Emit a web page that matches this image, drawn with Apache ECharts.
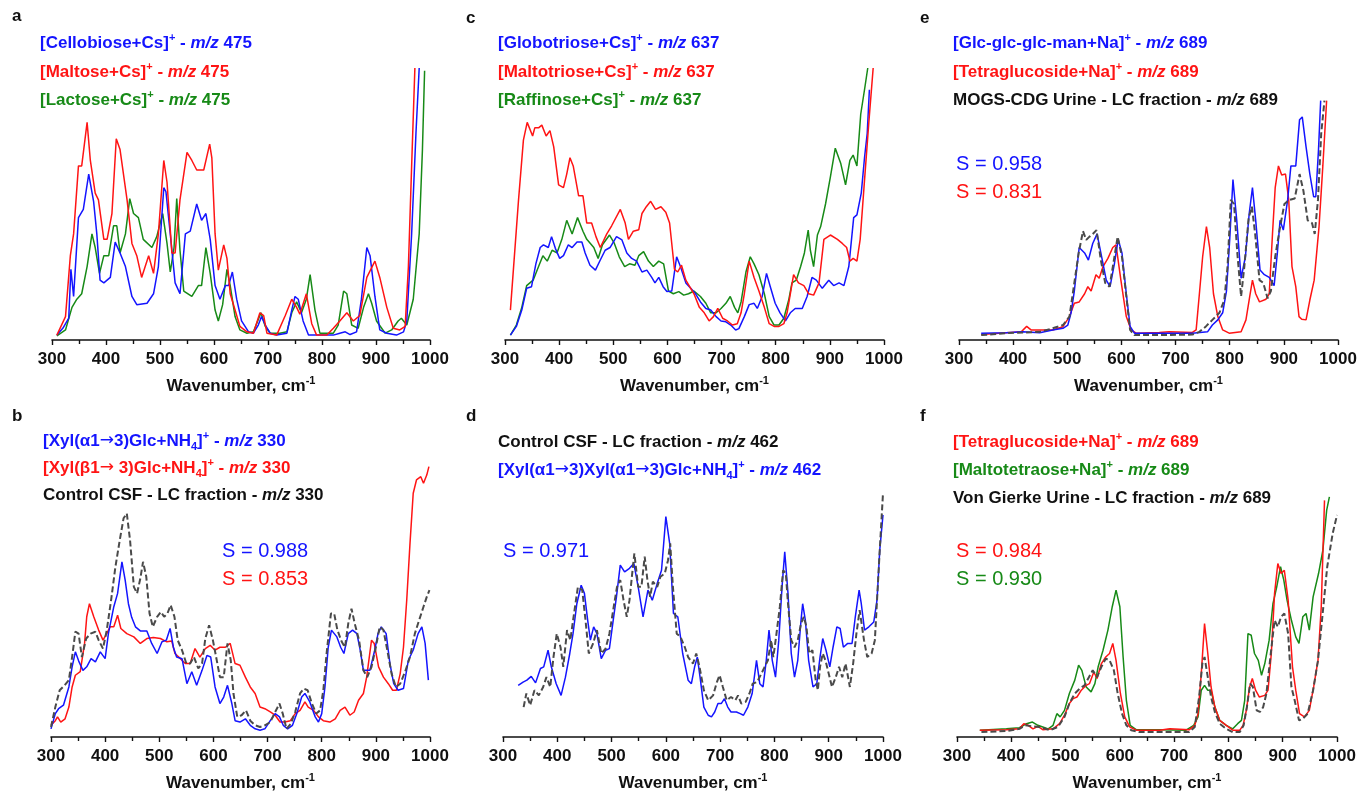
<!DOCTYPE html>
<html>
<head>
<meta charset="utf-8">
<script src="https://cdn.jsdelivr.net/npm/echarts@6/dist/echarts.min.js"></script>
<style>
  html, body { margin: 0; padding: 0; background: #fff; }
  #chart { width: 1359px; height: 792px; }
</style>
</head>
<body>
<div id="chart"></div>
<script>
// x axis ticks (cm-1)
const xTicks = [300, 400, 500, 600, 700, 800, 900, 1000];

// panel a - [wavenumber, intensity]
const aCellobiose = [[309,1.8],[320,4.3],[331,8],[335,26],[340,16],[349,45],[358,48],[368,61],[377,51],[383,39],[389,22],[396,21],[408,23],[417,36],[426,32],[436,27],[448,16],[457,13],[476,13.5],[488,17],[497,27],[507,56],[511,54.5],[519,39],[528,21],[537,17],[547,39],[556,40],[568,50],[577,44],[585,46.5],[593,37],[602,20],[611,15],[621,20],[627,20],[634,25],[642,15],[651,7],[664,3],[673,2.5],[682,5.5],[688,8.6],[695,5.5],[704,2.5],[716,1.8],[735,2.5],[744,11],[750,16],[756,15],[765,7],[775,1.8],[821,1.8],[833,2.5],[843,3],[852,2],[864,3],[873,15],[883,34],[889,31],[898,16],[907,3.7],[920,2.5],[938,1.8],[951,3],[957,7],[966,39],[974,76],[980,100]];
const aMaltose = [[309,1.8],[325,8.6],[334,31],[340,39],[349,64],[355,64],[365,80],[371,66],[380,54],[386,51.5],[396,37],[402,37],[411,46.5],[419,74],[426,70],[439,51.5],[448,35.5],[457,31],[466,23],[479,31],[488,24.5],[497,39],[507,66],[513,58],[522,32],[528,32],[537,51.5],[550,69],[559,66],[568,62.5],[581,62.5],[592,72],[596,67],[602,39],[608,25.7],[618,35],[624,30],[630,17],[639,11],[648,5],[661,3],[673,2.5],[685,10],[692,9],[698,2.5],[716,1.8],[732,9],[744,15],[753,12],[759,9.5],[771,17],[781,6],[790,1.8],[809,1.8],[821,4.3],[833,7],[846,10],[858,7],[870,9],[883,23],[898,29],[907,23],[920,12],[932,4.3],[944,3.7],[954,5],[960,27],[966,64],[972,100]];
const aLactose = [[309,1.5],[325,3.7],[337,12],[346,15],[355,17],[365,27],[374,39],[380,34],[388,24.5],[396,31],[405,31],[414,42],[420,42],[426,32],[436,39],[444,52],[451,46.5],[460,45],[469,37],[485,34],[494,38],[505,46.5],[513,35.5],[519,25],[526,34],[531,52],[537,33],[544,18],[559,16],[571,20],[577,20],[585,34],[593,24.5],[602,11],[608,7],[616,13],[624,26],[630,20],[639,8.6],[648,3.7],[661,2.5],[673,3],[687,10],[695,5],[704,2.5],[722,2.5],[735,3],[744,10],[753,14],[762,10],[771,15],[778,24],[787,11],[796,2.5],[821,2.5],[830,5.5],[840,18],[846,17],[855,5.5],[867,4.3],[877,12],[886,17],[892,13.5],[901,7],[917,2.5],[929,3.7],[941,7],[947,8],[957,5.5],[969,15],[980,39],[986,70],[990,99]];

// panel c
const cGlobotriose = [[310,1.8],[321,5],[331,11],[340,19],[349,19.6],[357,28],[365,34],[371,35],[380,34],[386,38],[393,33.7],[401,30],[408,31],[417,35],[424,34],[433,36],[442,36],[448,32],[457,27.5],[467,25.7],[476,29.4],[485,33],[494,34],[506,38],[516,36.8],[525,32],[534,30],[543,29],[553,25],[562,25.7],[571,23],[577,21],[584,23],[592,19.6],[599,17.8],[608,18],[617,30.6],[624,27],[634,21],[643,19],[652,17],[661,14],[671,11.6],[680,11],[690,8.6],[699,7],[708,6.7],[717,5.5],[726,3.7],[732,4.2],[742,8.6],[751,13],[760,13.5],[766,11.6],[775,16],[783,24.5],[790,19.6],[799,13.5],[808,10],[818,7],[827,10],[836,11.6],[849,11.6],[858,16],[867,23],[875,22],[886,19],[898,22],[907,20],[917,21],[926,20],[935,27],[944,45],[950,46],[958,54],[964,67],[969,76],[973,92]];
const cMaltotriose = [[310,11],[325,51.5],[334,73.5],[341,80],[351,75],[355,78],[362,78],[368,79],[376,75],[383,77],[390,71],[399,57],[408,56],[414,61],[420,67],[426,64],[436,53],[444,53],[451,43],[460,43],[468,38],[476,34],[488,39],[497,42],[513,48],[522,43],[528,37],[537,40],[547,40.5],[553,46.5],[561,49],[569,51],[578,48],[588,49],[597,47],[604,43],[613,26],[619,25],[626,27.5],[634,22],[640,20],[649,17],[659,12],[668,10],[677,7],[685,8.6],[693,11.6],[702,8],[711,7],[720,5.5],[729,6],[736,10],[742,17],[751,29],[760,23],[769,18],[779,12],[788,6],[797,5],[806,5],[815,6],[821,10],[827,17],[833,24],[842,21],[852,20],[861,17],[870,16.5],[880,21],[889,37],[901,38.6],[914,37],[923,35.5],[931,34],[937,29],[943,30],[950,29],[956,37],[963,56],[972,80],[980,100]];
const cRaffinose = [[310,1.8],[321,5.5],[331,12],[340,20],[352,22],[362,27],[370,31],[378,29],[387,33],[396,32],[405,37],[414,44],[424,39],[434,45],[444,40],[451,37],[464,34],[472,30],[480,35],[493,38.6],[502,35.5],[511,30.6],[521,27],[530,28],[540,27.5],[547,31],[556,32.5],[565,29],[574,27],[584,29],[593,28],[602,18],[611,17],[621,17.8],[630,16.5],[639,17],[649,18],[661,16],[671,13.5],[680,10],[690,10],[699,11.6],[708,13.5],[716,16],[724,12],[730,10],[736,14],[745,25],[753,30.6],[760,28],[769,24],[779,17],[788,8.6],[797,5.5],[806,5.5],[815,8],[824,14.7],[830,21],[838,22],[846,27],[853,32],[860,40.4],[864,33],[870,27],[877,38.6],[883,41.7],[892,50],[901,60],[910,70.5],[920,65],[929,57],[937,66],[943,68],[950,64],[957,83],[964,92],[970,100]];

// panel e
const eGlcMan = [[341,2.5],[387,2.7],[418,3],[449,2.7],[473,3.7],[492,4.3],[501,5.5],[507,10],[513,18],[522,34],[532,32],[539,29.4],[547,35.5],[555,39],[562,32],[572,22],[579,19.6],[587,28],[594,37],[601,32],[609,17],[616,5],[624,2.5],[670,2.5],[731,2.5],[759,3],[768,5.5],[778,7.4],[787,10],[794,18],[800,37],[806,59],[813,44],[821,22.7],[829,30.6],[836,46.5],[842,56],[848,44],[856,25.7],[864,24],[873,23],[882,20],[888,32],[893,44],[899,40.4],[907,51.5],[913,64],[922,64],[929,81],[934,82],[941,71],[948,61],[955,52.7],[959,52.7],[964,70],[968,88]];
const eTetraglucoside = [[341,2],[387,2.7],[415,3],[425,5],[433,3.7],[449,3.7],[473,3.7],[492,4.9],[504,8.6],[513,13.5],[522,14],[532,17],[538,19.6],[544,18],[553,24],[559,22.7],[566,27],[575,30],[584,34],[590,35],[599,22],[609,8.6],[618,3.7],[627,2.5],[670,2.8],[688,3],[731,2.8],[738,3.7],[744,17],[750,30.6],[757,41.7],[763,34],[770,17],[778,8.6],[787,3.7],[799,2.5],[821,3],[830,7.4],[837,16],[842,22],[848,17],[855,14],[867,15],[873,17],[879,39],[884,56],[890,64],[896,60.7],[903,61],[909,51.5],[915,27],[922,19.6],[928,8.6],[933,7.6],[941,7.4],[948,14.7],[956,22],[965,41.7],[972,64],[979,88]];
const eUrine = [[341,1.8],[387,2.5],[449,3],[473,4.3],[492,5.5],[504,8.6],[513,21],[521,32],[529,40],[535,36.8],[541,38],[547,39],[554,40.4],[562,29.4],[570,21],[578,19.6],[585,28],[593,38],[601,30.6],[609,16],[616,3.7],[624,1.8],[670,1.8],[731,2],[744,3],[756,5],[768,7.4],[781,10],[790,14.7],[796,27],[802,51.5],[808,50],[814,32],[821,16],[827,27],[835,45],[841,49],[847,39],[855,22],[862,21],[870,15.3],[876,18],[884,30.6],[892,40.4],[901,50],[910,51.5],[920,52],[929,61],[936,55],[944,44],[952,43],[957,39],[963,51.5],[969,76],[975,88]];

// panel b
const bXylAlpha = [[300,3],[308,8.6],[314,10.4],[323,11.7],[333,18.4],[339,25.8],[345,31.3],[351,28],[359,24.5],[366,25.8],[374,28.8],[382,27.6],[391,31.3],[400,28.8],[406,38],[416,47.9],[423,52.8],[431,64.4],[437,57.7],[443,49],[449,44],[456,40.5],[465,39],[477,39],[486,34.4],[496,30.7],[505,35],[513,35.6],[520,39.9],[526,33],[532,29.4],[542,28.8],[551,19.6],[560,24],[569,19],[579,24.5],[588,30],[595,29.4],[603,18.4],[612,12.3],[619,14.7],[626,19],[634,12.3],[640,6],[649,5.5],[659,6.7],[668,4.3],[677,3],[686,2.5],[695,3],[705,6],[714,8.6],[722,7.4],[729,4.3],[737,3],[746,4.3],[754,8.6],[763,14.7],[769,16],[778,12.9],[788,7.4],[794,5.5],[800,8.6],[806,18.4],[812,33],[818,39.3],[828,36.8],[835,33],[841,30.7],[849,38],[857,39.3],[865,38],[871,32],[877,24.5],[889,24.5],[898,32],[904,38],[910,40.5],[919,38],[926,27],[933,19.6],[941,17.2],[951,17.8],[960,28.2],[969,32],[978,38],[985,40.5],[991,34.4],[997,20.9]];
const bXylBeta = [[300,4.3],[308,6],[312,7.4],[318,5.5],[326,6.7],[333,11],[339,18.4],[345,22.7],[354,24],[362,34.4],[366,44.2],[371,49],[379,44.2],[388,39.3],[396,35.6],[403,38],[409,40.5],[416,40.5],[423,44.8],[429,39.9],[440,38],[453,36.8],[465,34.4],[477,36.2],[489,36.6],[502,36.2],[514,35],[523,35.3],[529,30.7],[539,28.8],[548,27],[557,27],[566,32.5],[575,29.4],[585,32.5],[594,33.7],[603,31.9],[612,33],[622,33],[631,34.4],[640,27],[649,26.4],[659,22],[668,18.4],[677,16],[686,11],[695,10.4],[705,9.2],[714,8],[723,5.5],[732,5.5],[742,6],[751,8.6],[760,9.8],[769,12.9],[775,11],[785,9.8],[794,7.4],[803,6],[815,5.5],[825,6.7],[834,9.8],[843,11],[852,8],[860,9.2],[868,13.5],[877,16],[883,22],[892,35.6],[897,34.4],[905,25.8],[914,22],[923,19.6],[931,17.2],[938,17.2],[945,23.3],[951,33],[957,50.3],[963,71],[969,89.6],[975,94.5],[983,95.7],[988,93.3],[994,96.3],[998,99.4]];
const bCsf = [[300,3.7],[308,11],[316,17.2],[325,19],[333,20.9],[339,29.4],[345,38.7],[351,38],[357,29.4],[365,36.2],[373,38],[382,38.7],[388,35.6],[396,32.5],[403,39.3],[411,50.3],[419,62.6],[427,72.4],[434,80.4],[440,82.2],[446,72.4],[453,55.2],[459,52.8],[465,58.3],[470,64.4],[476,58.9],[482,45.4],[488,40.5],[496,44.2],[503,46],[509,44.2],[515,45.4],[521,48.5],[528,44.2],[534,35.6],[542,31.9],[550,27],[557,27],[564,29.4],[572,25.2],[579,27],[585,36.2],[592,41.1],[599,35.6],[605,29.4],[612,22],[619,22],[626,34.4],[632,28.2],[637,16],[644,7.4],[652,8],[660,9.8],[668,6],[677,4.3],[686,3.7],[695,4.3],[705,5.5],[714,9.2],[722,12.3],[728,8.6],[735,3],[743,4.9],[751,9.2],[760,16],[767,17.8],[774,17.2],[782,12.3],[790,8.6],[797,9.8],[803,17.2],[809,30.7],[817,45.4],[823,45.4],[829,39.3],[837,35],[843,33],[849,41.7],[855,47.2],[861,41.7],[869,35.6],[877,24.5],[884,22],[892,25.8],[900,33],[907,40.5],[914,39.3],[921,32],[929,23.3],[937,18.4],[945,19.6],[954,24],[963,29.4],[972,38],[980,43],[988,47.9],[994,51.5],[999,54]];

// panel d
const dXylXyl = [[328,19],[337,20.2],[344,20.9],[352,22.3],[360,19.9],[369,25.2],[375,25.8],[383,31.9],[389,25.8],[398,19.6],[407,15.3],[415,22],[423,30.7],[429,38],[436,49],[444,55.8],[450,52.8],[456,42.9],[461,35.6],[467,40.5],[473,38],[481,28.8],[489,31.9],[496,32.5],[503,42.9],[509,51.5],[516,63.2],[524,60.7],[533,62],[541,63.8],[549,55.2],[558,44.2],[567,54],[575,50.3],[584,56.4],[592,61.3],[600,81],[607,71.2],[614,45.4],[622,44.2],[631,30.7],[641,20.9],[647,19.6],[653,25.8],[658,29.4],[663,22],[670,11],[678,8],[684,7.4],[690,9.2],[696,12.3],[702,12.3],[708,14.1],[714,11],[720,9.2],[730,9.2],[737,8.6],[743,8],[751,11],[759,16],[767,28.2],[773,19.6],[779,18.4],[785,28.2],[790,39.3],[796,28.2],[802,22],[808,35.6],[814,55.2],[819,68.1],[825,52.8],[831,30.7],[837,22],[843,28.2],[849,42.9],[852,49],[857,42.9],[863,28.2],[871,18.4],[878,19.6],[884,29.4],[889,36.2],[895,31.9],[902,25.8],[908,33],[915,40.5],[921,39.9],[927,33],[935,34.4],[943,34.4],[949,44.2],[956,54],[960,49],[966,39.3],[974,40.5],[983,42.3],[989,50.3],[994,68.7],[1000,81.6]];
const dCsf = [[338,11],[343,16],[350,11.7],[358,17.2],[366,15.3],[374,18.4],[380,22],[387,18.4],[393,29.4],[399,38],[406,33],[411,25.8],[418,39.3],[424,35.6],[430,44.2],[438,55.2],[446,54],[452,42.9],[458,30.7],[466,34.4],[473,39.3],[481,30.7],[489,32.5],[496,38],[504,47.9],[510,55.2],[516,57.7],[522,50.3],[528,44.2],[533,50.3],[538,60.1],[542,67.5],[549,55.2],[555,55.2],[561,66.3],[566,57.7],[571,51.5],[576,57.1],[584,55.2],[590,58.9],[598,60.1],[604,65],[608,71.2],[613,55.2],[620,38],[627,36.8],[635,33],[641,29.4],[650,27],[656,30.7],[662,25.8],[670,17.2],[678,13.5],[687,15.3],[694,20.2],[699,22.7],[705,18.4],[712,13.5],[720,14.7],[728,13.5],[733,15.3],[739,12.3],[747,12.9],[754,16],[760,19.6],[768,20.2],[776,23.3],[782,25.8],[788,28.2],[794,35.6],[798,29.4],[803,36.8],[810,47.9],[816,61.3],[821,60.1],[825,49],[831,35.6],[837,33],[843,35.6],[849,41.7],[854,44.2],[859,40.5],[864,30.7],[870,31.9],[876,20.9],[880,17.2],[884,25.8],[889,30.7],[894,28.2],[900,23.3],[906,18.4],[913,22],[919,25.8],[925,22],[931,27],[939,18.4],[945,27],[951,38],[957,46.6],[965,35.6],[971,29.4],[979,30.7],[985,35.6],[989,50.3],[994,68.7],[1000,89.6]];

// panel f
const fTetraglucoside = [[342,2.5],[391,2.7],[415,3],[423,4.9],[431,4.3],[440,3],[449,3.9],[458,2.7],[477,3],[489,4.9],[498,8],[507,12.3],[514,14.1],[521,14.7],[529,17.2],[538,19],[544,19.6],[552,23.9],[558,21.5],[566,27],[574,29.4],[581,30.7],[587,34.4],[593,28.2],[601,16],[609,7.4],[618,3.7],[630,2.5],[673,2.5],[692,3],[728,2.7],[738,4.3],[744,8.6],[750,23.3],[756,41.7],[762,30.7],[768,18.4],[775,11],[784,6.1],[796,4.3],[808,2.5],[821,2.5],[827,4.3],[833,9.8],[839,18.4],[844,21.5],[850,17.2],[857,14.7],[867,15.3],[873,17.2],[879,30.7],[885,52.8],[891,63.8],[897,60.1],[903,61.3],[910,50.3],[918,25.8],[924,17.2],[931,8.6],[940,7.4],[949,9.8],[957,18.4],[965,28.2],[971,47.9],[977,87]];
const fMaltotetraose = [[342,2.5],[391,3],[415,3.4],[428,4.9],[439,5.5],[449,4.3],[458,3.7],[468,3],[477,4.3],[484,8.6],[490,7.4],[498,9.8],[507,16],[517,20.9],[524,26.4],[530,24.5],[538,18.4],[547,16.6],[554,19.6],[560,25.8],[569,31.9],[578,39.3],[586,47.9],[593,54],[600,47.9],[606,29.4],[612,13.5],[619,4.3],[630,2.7],[673,2.7],[722,2.5],[736,4.3],[744,7.4],[750,17.2],[756,19],[762,17.2],[768,17.2],[775,11],[784,6.1],[796,4.3],[808,3],[817,4.9],[824,6.1],[830,13.5],[836,38],[842,37.4],[848,30.7],[855,28.2],[861,22.7],[867,27],[875,35.6],[882,49],[889,55.2],[896,62.6],[902,57.7],[908,50.3],[916,42.9],[924,36.8],[930,34.4],[937,44.2],[943,45.4],[949,39.3],[956,51.5],[966,60.1],[974,68.7],[981,83.4],[986,88.3]];
const fUrine = [[345,1.8],[391,2.2],[415,3],[426,4.3],[440,3.9],[452,3.7],[471,2.5],[486,3.7],[498,7.4],[507,12.3],[517,16],[526,17.8],[535,19],[543,22],[550,24.5],[558,22],[566,25.8],[574,28.8],[581,28.2],[589,24.5],[596,16],[604,8.6],[612,4.3],[621,2.5],[636,1.8],[698,1.8],[728,1.8],[738,3.7],[746,14.7],[752,27],[756,29.4],[762,22],[768,14.7],[775,9.2],[784,4.9],[796,3],[808,1.8],[821,1.8],[828,4.3],[834,11],[840,19.6],[845,18.4],[852,9.8],[858,9.2],[864,11],[870,16],[878,30.7],[885,42.9],[891,40.5],[897,44.2],[903,45.4],[910,38],[916,18.4],[922,13.5],[930,6.1],[937,6.7],[946,8.6],[956,17.2],[965,28.2],[973,44.2],[982,62.6],[992,74.8],[1000,81.6]];

const BLUE = '#1414ff', RED = '#ff1414', GREEN = '#178a17', BLACK = '#111', DASH = '#4a4a4a';
const FONT = 'Liberation Sans, Arial, sans-serif';

// grid boxes: a, c, e (top row) then b, d, f
const grids = [
  { left: 52, top: 68, width: 378, height: 272 },
  { left: 505, top: 68, width: 379, height: 272 },
  { left: 959, top: 68, width: 379, height: 272 },
  { left: 51, top: 465, width: 379, height: 272 },
  { left: 503, top: 465, width: 380, height: 272 },
  { left: 957, top: 465, width: 380, height: 272 }
];

function richFor(color) {
  return {
    sup: { fontSize: 11, fontWeight: 'bold', color: color, fontFamily: FONT, verticalAlign: 'top', lineHeight: 12, padding: [0, 0, 8, 0] },
    sub: { fontSize: 11, fontWeight: 'bold', color: color, fontFamily: FONT, verticalAlign: 'bottom', lineHeight: 12, padding: [8, 0, 0, 0] },
    it: { fontSize: 17, fontWeight: 'bold', fontStyle: 'italic', color: color, fontFamily: FONT },
    ar: { fontSize: 17, fontWeight: 'normal', color: color, fontFamily: 'DejaVu Sans' }
  };
}

function label(x, y, text, color) {
  return {
    left: x, top: y - 11, padding: 0, text: text,
    textStyle: { color: color, fontSize: 17, fontWeight: 'bold', fontFamily: FONT, lineHeight: 22, rich: richFor(color) }
  };
}

function score(x, y, text, color) {
  return {
    left: x, top: y - 11, padding: 0, text: text,
    textStyle: { color: color, fontSize: 20, fontWeight: 'normal', fontFamily: FONT }
  };
}

function letter(x, y, t) {
  return { left: x, top: y - 10, padding: 0, text: t, textStyle: { color: '#111', fontSize: 17, fontWeight: 'bold', fontFamily: FONT } };
}

const titles = [
  letter(12, 18, 'a'), letter(466, 20, 'c'), letter(920, 20, 'e'),
  letter(12, 418, 'b'), letter(466, 418, 'd'), letter(920, 418, 'f'),

  label(40, 43, '[Cellobiose+Cs]{sup|+} - {it|m/z} 475', BLUE),
  label(40, 72, '[Maltose+Cs]{sup|+} - {it|m/z} 475', RED),
  label(40, 100, '[Lactose+Cs]{sup|+} - {it|m/z} 475', GREEN),

  label(498, 43, '[Globotriose+Cs]{sup|+} - {it|m/z} 637', BLUE),
  label(498, 72, '[Maltotriose+Cs]{sup|+} - {it|m/z} 637', RED),
  label(498, 100, '[Raffinose+Cs]{sup|+} - {it|m/z} 637', GREEN),

  label(953, 43, '[Glc-glc-glc-man+Na]{sup|+} - {it|m/z} 689', BLUE),
  label(953, 72, '[Tetraglucoside+Na]{sup|+} - {it|m/z} 689', RED),
  label(953, 100, 'MOGS-CDG Urine - LC fraction - {it|m/z} 689', BLACK),

  label(43, 441, '[Xyl(α1{ar|→}3)Glc+NH{sub|4}]{sup|+} - {it|m/z} 330', BLUE),
  label(43, 468, '[Xyl(β1{ar|→} 3)Glc+NH{sub|4}]{sup|+} - {it|m/z} 330', RED),
  label(43, 495, 'Control CSF - LC fraction - {it|m/z} 330', BLACK),

  label(498, 442, 'Control CSF - LC fraction - {it|m/z} 462', BLACK),
  label(498, 470, '[Xyl(α1{ar|→}3)Xyl(α1{ar|→}3)Glc+NH{sub|4}]{sup|+} - {it|m/z} 462', BLUE),

  label(953, 442, '[Tetraglucoside+Na]{sup|+} - {it|m/z} 689', RED),
  label(953, 470, '[Maltotetraose+Na]{sup|+} - {it|m/z} 689', GREEN),
  label(953, 498, 'Von Gierke Urine - LC fraction - {it|m/z} 689', BLACK),

  score(956, 165, 'S = 0.958', BLUE),
  score(956, 193, 'S = 0.831', RED),
  score(222, 552, 'S = 0.988', BLUE),
  score(222, 580, 'S = 0.853', RED),
  score(503, 552, 'S = 0.971', BLUE),
  score(956, 552, 'S = 0.984', RED),
  score(956, 580, 'S = 0.930', GREEN)
];

const xAxes = grids.map((g, i) => ({
  type: 'value', gridIndex: i, min: xTicks[0], max: xTicks[xTicks.length - 1], interval: 100,
  axisLine: { lineStyle: { color: '#111', width: 1.6 } },
  axisTick: { length: 5, lineStyle: { color: '#111', width: 1.4 } },
  minorTick: { show: true, splitNumber: 2, length: 4, lineStyle: { color: '#111', width: 1.4 } },
  splitLine: { show: false },
  axisLabel: { color: '#111', fontSize: 17, fontWeight: 'bold', fontFamily: FONT, margin: 11, formatter: v => String(v) },
  name: 'Wavenumber, cm{sup|-1}', nameLocation: 'middle', nameGap: 35,
  nameTextStyle: {
    color: '#111', fontSize: 17, fontWeight: 'bold', fontFamily: FONT, lineHeight: 22,
    rich: { sup: { fontSize: 11, fontWeight: 'bold', color: '#111', fontFamily: FONT, verticalAlign: 'top', lineHeight: 12, padding: [0, 0, 8, 0] } }
  }
}));

const yAxes = grids.map((g, i) => ({ type: 'value', gridIndex: i, min: 0, max: 100, show: false }));

function spec(data, idx, color, dashed) {
  return {
    type: 'line', xAxisIndex: idx, yAxisIndex: idx, data: data,
    showSymbol: false, silent: true, animation: false,
    lineStyle: dashed ? { color: color, width: 2, type: [6, 3] } : { color: color, width: 1.5 }
  };
}

const series = [
  spec(aLactose, 0, GREEN), spec(aCellobiose, 0, BLUE), spec(aMaltose, 0, RED),
  spec(cRaffinose, 1, GREEN), spec(cGlobotriose, 1, BLUE), spec(cMaltotriose, 1, RED),
  spec(eTetraglucoside, 2, RED), spec(eGlcMan, 2, BLUE), spec(eUrine, 2, DASH, true),
  spec(bXylBeta, 3, RED), spec(bXylAlpha, 3, BLUE), spec(bCsf, 3, DASH, true),
  spec(dXylXyl, 4, BLUE), spec(dCsf, 4, DASH, true),
  spec(fMaltotetraose, 5, GREEN), spec(fTetraglucoside, 5, RED), spec(fUrine, 5, DASH, true)
];

const chart = echarts.init(document.getElementById('chart'), null, { renderer: 'canvas' });
chart.setOption({
  backgroundColor: '#fff',
  animation: false,
  title: titles,
  grid: grids.map(g => Object.assign({ outerBoundsMode: 'none' }, g)),
  xAxis: xAxes,
  yAxis: yAxes,
  series: series
});
</script>
</body>
</html>
